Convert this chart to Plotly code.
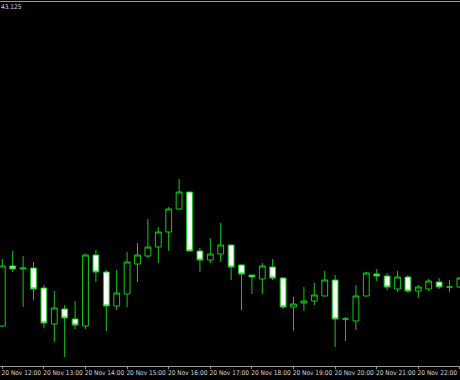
import plotly.graph_objects as go
import pandas as pd

times = pd.date_range("2023-11-20 12:00", "2023-11-20 23:00", freq="15min")

opens = [141.500, 141.800, 141.785, 141.790, 141.690, 141.510, 141.585, 141.535,
         141.500, 141.855, 141.770, 141.600, 141.660, 141.810, 141.850, 141.895,
         141.970, 142.085, 142.170, 141.875, 141.830, 141.860, 141.905, 141.805,
         141.755, 141.735, 141.795, 141.740, 141.595, 141.615, 141.625, 141.650,
         141.730, 141.535, 141.525, 141.650, 141.760, 141.750, 141.685, 141.745,
         141.675, 141.685, 141.720, 141.695, 141.695]
highs = [141.835, 141.875, 141.850, 141.820, 141.705, 141.675, 141.605, 141.625,
         141.860, 141.880, 141.780, 141.780, 141.870, 141.915, 142.035, 141.995,
         142.095, 142.235, 142.170, 141.890, 141.940, 142.015, 141.905, 141.810,
         141.755, 141.815, 141.835, 141.745, 141.645, 141.695, 141.715, 141.775,
         141.755, 141.545, 141.705, 141.770, 141.785, 141.765, 141.775, 141.755,
         141.705, 141.735, 141.740, 141.730, 141.745]
lows = [141.495, 141.770, 141.595, 141.630, 141.490, 141.420, 141.345, 141.485,
        141.485, 141.720, 141.475, 141.580, 141.595, 141.720, 141.840, 141.815,
        141.875, 142.080, 141.875, 141.770, 141.815, 141.820, 141.730, 141.580,
        141.660, 141.660, 141.730, 141.585, 141.475, 141.575, 141.605, 141.650,
        141.395, 141.425, 141.480, 141.650, 141.725, 141.680, 141.670, 141.665,
        141.640, 141.675, 141.685, 141.670, 141.690]
closes = [141.800, 141.785, 141.790, 141.685, 141.515, 141.590, 141.540, 141.505,
          141.855, 141.770, 141.600, 141.665, 141.820, 141.855, 141.895, 141.970,
          142.085, 142.170, 141.875, 141.830, 141.860, 141.905, 141.795, 141.760,
          141.745, 141.800, 141.740, 141.595, 141.610, 141.625, 141.655, 141.730,
          141.535, 141.535, 141.650, 141.765, 141.750, 141.695, 141.745, 141.675,
          141.695, 141.725, 141.695, 141.695, 141.740]

tick_times = pd.date_range("2023-11-20 12:00", "2023-11-20 23:00", freq="1h")
tick_labels = ["20 Nov " + t.strftime("%H:%M") for t in tick_times]

GREEN = "#14c814"
GREY = "#9a9a9a"
TXT = "#d8d8d8"

fig = go.Figure(go.Candlestick(
    x=times, open=opens, high=highs, low=lows, close=closes,
    increasing=dict(line=dict(color=GREEN, width=1), fillcolor="black"),
    decreasing=dict(line=dict(color=GREEN, width=1), fillcolor="white"),
    whiskerwidth=0, hoverinfo="skip",
))

fig.update_layout(
    width=460, height=380,
    margin=dict(l=0, r=0, t=2, b=14, autoexpand=False),
    paper_bgcolor="black", plot_bgcolor="black",
    showlegend=False, boxgap=0.2,
    font=dict(family="Liberation Sans Narrow, DejaVu Sans Condensed, Liberation Sans, Arial", size=6.5, color=TXT),
    xaxis=dict(
        type="date",
        range=["2023-11-20 11:56:41", "2023-11-20 23:00:07"],
        rangeslider=dict(visible=False),
        showgrid=False, zeroline=False, automargin=False,
        showline=True, linecolor=GREY, linewidth=1, mirror=True,
        ticks="outside", ticklen=2, tickcolor=GREY, tickwidth=1,
        tickvals=list(tick_times), ticktext=tick_labels, tickangle=0,
        ticklabelshift=19, ticklabelstandoff=-2,
        tickfont=dict(size=6.5, color=TXT),
    ),
    yaxis=dict(
        range=[141.300, 143.120],
        showgrid=False, zeroline=False, showticklabels=False,
        showline=False, automargin=False,
    ),
    annotations=[dict(
        text="43.125", xref="paper", yref="paper", x=0, y=1,
        xanchor="left", yanchor="top", showarrow=False, borderpad=0,
        font=dict(size=6.5, color=TXT),
    )],
)

fig.write_html("out.html")
